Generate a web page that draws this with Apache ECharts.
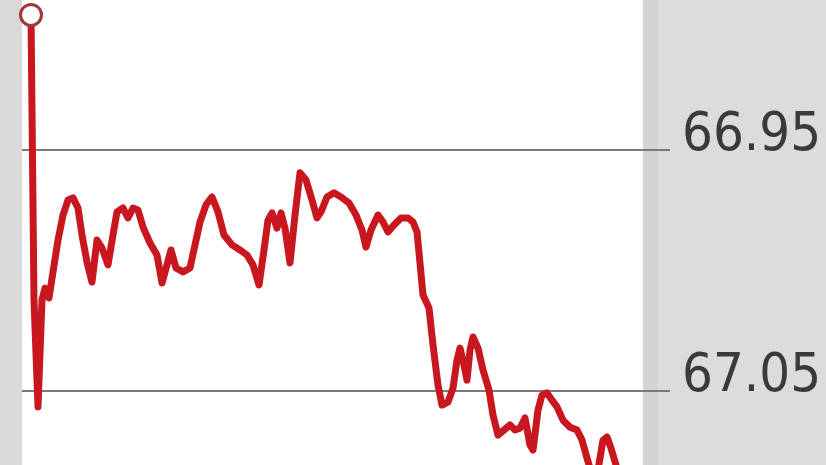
<!DOCTYPE html>
<html>
<head>
<meta charset="utf-8">
<script src="https://cdn.jsdelivr.net/npm/echarts@6/dist/echarts.min.js"></script>
<style>
html,body{margin:0;padding:0;background:#fff;}
#c{width:826px;height:465px;}
</style>
</head>
<body>
<div id="c"></div>
<script>
// time index of each reading (session steps)
var times = [9,12,16,20,23,27,31,36,41,46,51,56,60,65,70,75,80,86,91,95,101,106,111,116,121,128,135,140,145,149,154,161,168,173,178,184,190,196,202,210,218,225,231,237,242,246,250,255,259,263,268,273,278,284,290,295,299,305,312,319,327,334,340,344,349,356,361,366,372,379,386,391,395,398,401,407,411,416,420,426,431,435,438,442,445,448,451,456,461,467,471,476,482,488,493,498,503,508,511,516,520,525,530,535,541,548,555,560,565,570,576,581,585,589,594,599];
// reading values (inverted scale)
var values = [66.8940,67.0122,67.0566,67.0122,67.0073,67.0114,67.0006,66.9874,66.9770,66.9708,66.9699,66.9741,66.9853,66.9965,67.0048,66.9874,66.9907,66.9977,66.9853,66.9757,66.9741,66.9782,66.9741,66.9749,66.9820,66.9886,66.9936,67.0052,66.9977,66.9915,66.9990,67.0006,66.9990,66.9894,66.9799,66.9728,66.9695,66.9757,66.9853,66.9894,66.9915,66.9936,66.9977,67.0060,66.9915,66.9791,66.9761,66.9824,66.9761,66.9824,66.9969,66.9770,66.9595,66.9625,66.9708,66.9782,66.9757,66.9695,66.9678,66.9695,66.9720,66.9770,66.9832,66.9903,66.9832,66.9770,66.9799,66.9840,66.9811,66.9782,66.9782,66.9799,66.9840,66.9969,67.0102,67.0156,67.0309,67.0475,67.0558,67.0546,67.0488,67.0372,67.0322,67.0392,67.0455,67.0330,67.0276,67.0322,67.0413,67.0496,67.0600,67.0683,67.0662,67.0641,67.0662,67.0654,67.0612,67.0724,67.0745,67.0579,67.0517,67.0508,67.0538,67.0566,67.0621,67.0650,67.0662,67.0704,67.0778,67.0849,67.0828,67.0704,67.0691,67.0737,67.0807,67.0870];
var tickValues = [66.95, 67.05];
var tickLabels = ['66.95', '67.05'];

var seriesData = [];
for (var i = 0; i < times.length && i < values.length; i++) {
  seriesData.push([times[i], values[i]]);
}

var chart = echarts.init(document.getElementById('c'), null, {renderer: 'canvas'});
chart.setOption({
  animation: false,
  backgroundColor: '#ffffff',
  graphic: [
    {type: 'rect', z: -10, shape: {x: 0, y: 0, width: 22, height: 465}, style: {fill: '#d9d9d9'}},
    {type: 'rect', z: -10, shape: {x: 643, y: 0, width: 15, height: 465}, style: {fill: '#d3d3d3'}},
    {type: 'rect', z: -10, shape: {x: 658, y: 0, width: 168, height: 465}, style: {fill: '#dcdcdc'}}
  ],
  grid: {left: 22, right: 156, top: 0, bottom: 0, containLabel: false, outerBoundsMode: 'none'},
  xAxis: {
    type: 'value', min: 0, max: 648, show: false,
    splitLine: {show: false}
  },
  yAxis: {
    type: 'value',
    inverse: true,
    position: 'right',
    min: 66.8878,
    max: 67.0807,
    axisLine: {show: false},
    axisTick: {show: false, customValues: tickValues},
    splitLine: {show: true, lineStyle: {color: '#7a7a7a', width: 2}},
    axisLabel: {
      customValues: tickValues,
      margin: 12,
      fontFamily: '"DejaVu Sans Condensed", sans-serif',
      fontSize: 54,
      lineHeight: 28,
      color: '#3a3a3a',
      verticalAlign: 'bottom',
      formatter: function (v) {
        var idx = tickValues.indexOf(Math.round(v * 100) / 100);
        return idx >= 0 ? tickLabels[idx] : '';
      }
    }
  },
  series: [
    {
      type: 'line',
      data: seriesData,
      showSymbol: false,
      symbol: 'none',
      z: 3,
      lineStyle: {color: '#c8171e', width: 7, join: 'round', cap: 'round'}
    },
    {
      type: 'scatter',
      data: [seriesData[0]],
      symbol: 'circle',
      symbolSize: 21,
      z: 4,
      itemStyle: {color: '#ffffff', borderColor: '#a03a3a', borderWidth: 3, opacity: 1}
    }
  ]
});
</script>
</body>
</html>
